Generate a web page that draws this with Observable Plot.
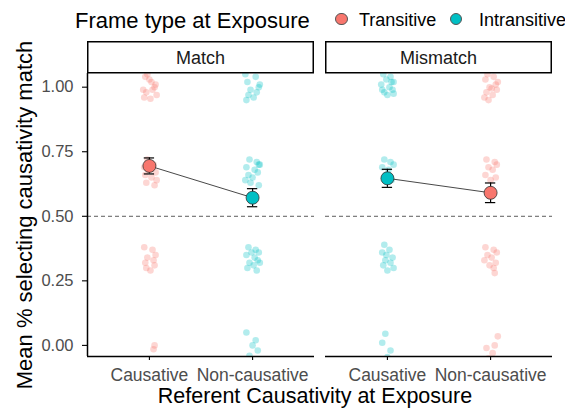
<!DOCTYPE html>
<html><head><meta charset="utf-8">
<script src="https://cdn.jsdelivr.net/npm/d3@7"></script>
<script src="https://cdn.jsdelivr.net/npm/@observablehq/plot@0.6"></script>
<style>
body{margin:0;background:#fff;font-family:"Liberation Sans",Arial,sans-serif;}
#legend{position:relative;height:41px;width:565px;overflow:hidden;}
#legend span{position:absolute;white-space:nowrap;color:#000;line-height:normal;}
#legend .ttl{font-size:22px;left:75px;top:8px;}
#legend .lab{font-size:18px;top:9.5px;}
#legend .key{width:12.5px;height:12.5px;border-radius:50%;box-sizing:border-box;border:0.8px solid #555;top:12.8px;}
</style></head><body>
<div id="legend"></div>
<div id="chart"></div>
<script>
const panels = ["Match", "Mismatch"];
const referents = ["Causative", "Non-causative"];
const frames = ["Transitive", "Intransitive"];
const frameColors = ["#F8766D", "#00BFC4"];
const yTicks = [0, 0.25, 0.5, 0.75, 1];
const yDomain = [-0.043, 1.053];
const xDomain = [0.4, 2.6];

// jittered participant proportions
const matchCausY = [1.04,1.02,1.05,0.99,1.00,0.98,1.01,0.97,0.96,1.03,0.99,0.955,
  0.72,0.70,0.69,0.67,0.66,0.65,0.64,0.63,0.62,0.68,
  0.38,0.37,0.35,0.34,0.33,0.32,0.31,0.30,0.29,
  0.00,-0.015];
const matchCausX = [0.96,1.02,0.98,0.94,1.05,0.97,1.06,1.07,0.95,1.00,1.03,1.01,
  0.98,1.04,0.95,1.06,0.96,1.02,1.07,0.97,1.05,1.00,
  0.95,1.03,1.06,0.98,1.04,0.96,1.05,0.97,1.01,
  1.05,1.04];
const matchNonY = [1.05,1.04,1.02,1.00,0.99,0.98,1.01,0.97,0.96,0.95,
  0.72,0.71,0.70,0.69,0.68,0.67,0.66,0.65,0.64,0.70,0.62,0.63,
  0.38,0.37,0.36,0.35,0.34,0.33,0.32,0.31,0.30,0.29,0.36,0.32,
  0.05,0.02,0.00,-0.02,-0.04];
const matchNonX = [1.93,2.03,1.95,2.06,1.98,2.04,2.07,1.96,2.01,1.94,
  1.97,2.04,2.06,1.94,2.02,2.05,1.96,2.00,1.93,2.07,2.06,1.98,
  1.96,2.03,2.06,1.94,2.02,2.05,1.97,2.01,1.95,2.04,1.99,2.07,
  1.94,2.03,2.00,2.05,1.97];
const mismCausY = [1.05,1.04,1.03,1.02,1.01,1.00,0.99,0.98,0.99,0.97,1.02,0.975,
  0.72,0.71,0.70,0.69,0.68,0.66,0.64,
  0.39,0.37,0.36,0.34,0.33,0.32,0.31,0.30,0.29,0.35,
  0.045,0.01,-0.02,-0.045];
const mismCausX = [0.96,1.03,0.99,1.06,0.94,1.02,1.05,0.97,0.95,1.00,1.04,1.06,
  0.97,1.03,1.06,0.95,1.01,0.98,1.04,
  0.97,1.02,0.95,1.05,0.98,1.03,0.96,1.06,1.00,0.99,
  0.98,0.95,1.03,1.00];
const mismNonY = [1.05,1.04,1.03,1.01,1.00,0.99,0.98,0.97,0.96,1.02,0.995,0.95,
  0.72,0.71,0.70,0.69,0.68,0.66,0.65,0.64,
  0.38,0.37,0.36,0.35,0.34,0.33,0.32,0.31,0.30,0.28,
  0.035,0.00,-0.01,-0.03,-0.05];
const mismNonX = [1.97,2.03,1.95,2.05,1.99,2.06,1.96,2.02,1.94,2.07,2.01,1.98,
  1.96,2.04,2.06,1.98,2.02,1.95,2.05,2.00,
  1.95,2.03,2.06,1.97,2.01,1.94,2.05,1.99,2.03,2.04,
  2.07,2.04,1.96,2.02,1.98];

// condition means and standard errors
const meanPanel = ["Match", "Match", "Mismatch", "Mismatch"];
const meanRef = [1, 2, 1, 2];
const meanFrame = ["Transitive", "Intransitive", "Intransitive", "Transitive"];
const meanValue = [0.695, 0.572, 0.647, 0.591];
const meanSe = [0.031, 0.035, 0.035, 0.038];

const groups = [
  ["Match", "Transitive", matchCausX, matchCausY],
  ["Match", "Intransitive", matchNonX, matchNonY],
  ["Mismatch", "Intransitive", mismCausX, mismCausY],
  ["Mismatch", "Transitive", mismNonX, mismNonY]
];
const points = groups.flatMap(([panel, frame, xs, ys]) =>
  ys.map((y, i) => ({panel, frame, x: xs[i], y})));
const means = meanValue.map((m, i) => ({panel: meanPanel[i], x: meanRef[i], frame: meanFrame[i], y: m, lo: m - meanSe[i], hi: m + meanSe[i]}));
const capHalf = 0.05;

// legend
const leg = d3.select("#legend");
leg.append("span").attr("class", "ttl").text("Frame type at Exposure");
const legPos = [[335, 359], [449.5, 479]];
frames.forEach((f, i) => {
  leg.append("span").attr("class", "key").style("left", legPos[i][0] + "px").style("background", frameColors[i]);
  leg.append("span").attr("class", "lab").style("left", legPos[i][1] + "px").text(f);
});

const axisStyle = {stroke: "black", fill: "#4d4d4d", strokeWidth: 1.1, label: null};
const plot = Plot.plot({
  width: 565, height: 369,
  marginLeft: 87, marginRight: 13, marginTop: 32, marginBottom: 54,
  style: {fontFamily: "Liberation Sans, Arial, sans-serif", background: "white"},
  fx: {domain: panels, paddingInner: 0.0463, paddingOuter: 0, axis: null, label: null},
  x: {domain: xDomain, label: null},
  y: {domain: yDomain, label: null},
  color: {domain: frames, range: frameColors},
  marks: [
    Plot.ruleY([0.5], {stroke: "#333", strokeWidth: 0.8, strokeDasharray: "4,3"}),
    Plot.dot(points, {x: "x", y: "y", fx: "panel", fill: "frame", r: 3.3, fillOpacity: 0.3, clip: true}),
    Plot.line(means, {x: "x", y: "y", fx: "panel", stroke: "#333", strokeWidth: 0.9}),
    Plot.ruleX(means, {x: "x", y1: "lo", y2: "hi", fx: "panel", stroke: "black", strokeWidth: 1.2}),
    Plot.ruleY(means, {y: "lo", x1: d => d.x - capHalf, x2: d => d.x + capHalf, fx: "panel", stroke: "black", strokeWidth: 1.2}),
    Plot.ruleY(means, {y: "hi", x1: d => d.x - capHalf, x2: d => d.x + capHalf, fx: "panel", stroke: "black", strokeWidth: 1.2}),
    Plot.dot(means, {x: "x", y: "y", fx: "panel", fill: "frame", r: 6.5, stroke: "#333", strokeWidth: 0.8}),
    Plot.axisX([1, 2], {...axisStyle, tickFormat: d => referents[d - 1], tickSize: 4, tickPadding: 8, fontSize: 17.5}),
    Plot.axisY(yTicks, {...axisStyle, tickFormat: d3.format(".2f"), tickSize: 5, tickPadding: 9, fontSize: 16.5}),
    Plot.ruleY([yDomain[0]], {stroke: "black", strokeWidth: 1.5}),
    Plot.ruleX([panels[0]], {x: () => xDomain[0], fx: d => d, stroke: "black", strokeWidth: 1.5})
  ]
});
document.getElementById("chart").appendChild(plot);

// facet strips and axis titles
const svg = d3.select(plot);
const fx = plot.scale("fx");
const bw = fx.bandwidth;
panels.forEach(p => {
  const x0 = fx.apply(p);
  svg.append("rect").attr("x", x0 + 0.75).attr("y", 0.75).attr("width", bw - 1.5).attr("height", 31)
    .attr("fill", "white").attr("stroke", "black").attr("stroke-width", 1.5);
  svg.append("text").attr("x", x0 + bw / 2).attr("y", 22.5).attr("text-anchor", "middle")
    .attr("font-size", 18).attr("fill", "#1a1a1a").text(p);
});
svg.append("text").attr("x", 315).attr("y", 362).attr("text-anchor", "middle")
  .attr("font-size", 21.5).attr("fill", "black").text("Referent Causativity at Exposure");
svg.append("text").attr("transform", "translate(32,174) rotate(-90)").attr("text-anchor", "middle")
  .attr("font-size", 22).attr("fill", "black").text("Mean % selecting causativity match");
</script>
</body></html>
